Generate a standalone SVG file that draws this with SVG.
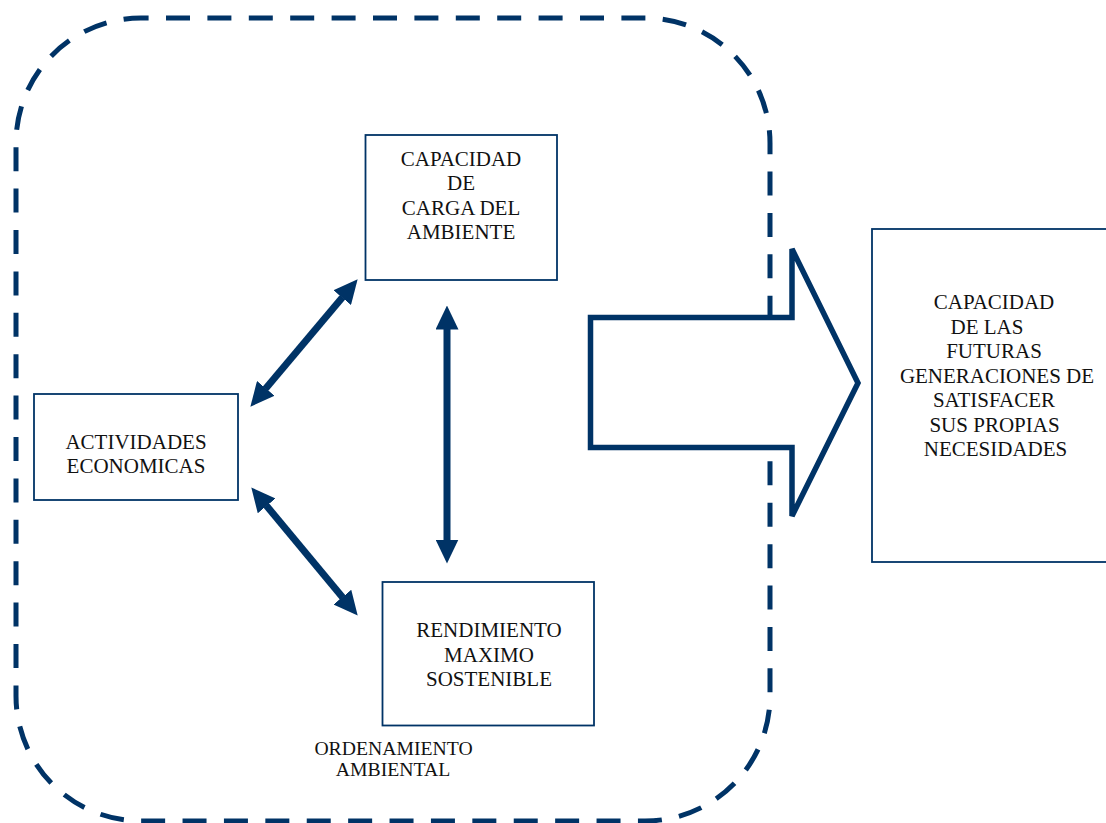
<svg xmlns="http://www.w3.org/2000/svg" width="1106" height="823" viewBox="0 0 1106 823">
<defs>
<style>
.box{fill:#ffffff;stroke:#003366;stroke-width:1.8}
.t{font-family:"Liberation Serif","Times New Roman",serif;font-size:21px;fill:#111111;text-anchor:middle}
.t2{font-family:"Liberation Serif","Times New Roman",serif;font-size:19.7px;fill:#111111;text-anchor:middle}
.link{stroke:#003366;stroke-width:7;fill:none;marker-start:url(#head);marker-end:url(#head)}
</style>
<marker id="head" markerUnits="userSpaceOnUse" markerWidth="24" markerHeight="23" viewBox="0 0 24 23" refX="0.5" refY="11.5" orient="auto-start-reverse">
<path d="M0,0 L24,11.5 L0,23 z" fill="#003366"/>
</marker>
</defs>
<rect width="1106" height="823" fill="#ffffff"/>
<g id="ordenamiento-frame">
<rect x="16" y="18" width="754" height="803" rx="125" ry="125" fill="none" stroke="#003366" stroke-width="5" stroke-dasharray="24 17.4" stroke-dashoffset="-25"/>
</g>
<g id="big-arrow">
<polygon points="590.5,317.5 792,317.5 792,249 858,383 792,516 792,447.5 590.5,447.5" fill="#ffffff" stroke="#003366" stroke-width="5.5" stroke-linejoin="miter"/>
</g>
<g id="connectors">
<line class="link" x1="265.5" y1="388.7" x2="342.5" y2="297.3"/>
<line class="link" x1="266.3" y1="505.5" x2="342.7" y2="597.5"/>
<line class="link" x1="447" y1="329" x2="447" y2="540"/>
</g>
<g id="capacidad-carga">
<rect class="box" x="365.5" y="135" width="191.5" height="145"/>
<text class="t" x="461" y="165.5">CAPACIDAD</text>
<text class="t" x="461" y="190">DE</text>
<text class="t" x="461" y="214.5">CARGA DEL</text>
<text class="t" x="461" y="239">AMBIENTE</text>
</g>
<g id="actividades">
<rect class="box" x="34" y="394" width="204" height="106"/>
<text class="t" x="136" y="448.5">ACTIVIDADES</text>
<text class="t" x="136" y="473">ECONOMICAS</text>
</g>
<g id="rendimiento">
<rect class="box" x="382.5" y="582" width="211.5" height="143.5"/>
<text class="t" x="489" y="637">RENDIMIENTO</text>
<text class="t" x="489" y="661.5">MAXIMO</text>
<text class="t" x="489" y="686">SOSTENIBLE</text>
</g>
<g id="futuras">
<rect class="box" x="872" y="229" width="250" height="333"/>
<text class="t" x="994" y="309">CAPACIDAD</text>
<text class="t" x="987" y="333.5">DE LAS</text>
<text class="t" x="994" y="358">FUTURAS</text>
<text class="t" x="997" y="382.5">GENERACIONES DE</text>
<text class="t" x="994" y="407">SATISFACER</text>
<text class="t" x="994.5" y="431.5">SUS PROPIAS</text>
<text class="t" x="995.5" y="456">NECESIDADES</text>
</g>
<g id="ordenamiento-label">
<text class="t2" x="393.5" y="754.5">ORDENAMIENTO</text>
<text class="t2" x="393" y="776">AMBIENTAL</text>
</g>
</svg>
